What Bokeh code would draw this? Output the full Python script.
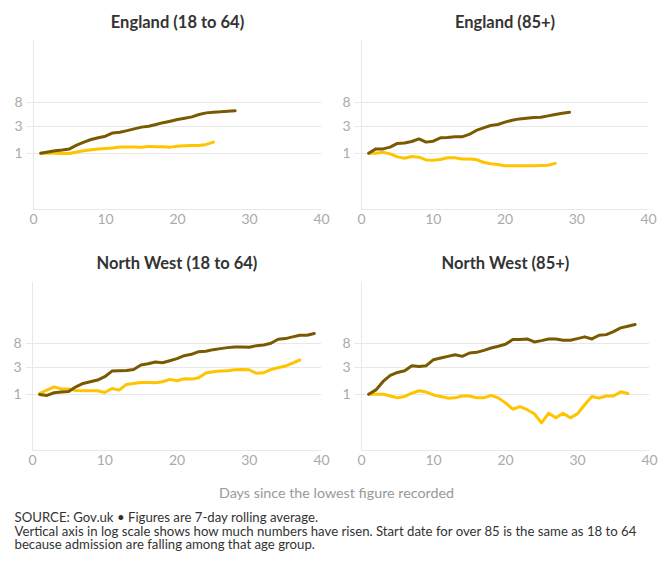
from bokeh.plotting import figure
from bokeh.models import Range1d, FixedTicker, PrintfTickFormatter, Label
from bokeh.layouts import column, row
from bokeh.embed import file_html
from bokeh.resources import INLINE

# ---- data (ratio to the lowest figure, by days since) ----
eng_young_dark = [1.0, 1.05, 1.1, 1.14, 1.19, 1.39, 1.57, 1.75, 1.88, 2.0, 2.29, 2.36, 2.51, 2.7,
                  2.9, 3.0, 3.23, 3.48, 3.7, 3.96, 4.18, 4.41, 4.86, 5.19, 5.34, 5.41, 5.52, 5.64]
eng_young_yellow = [1.0, 1.0, 1.0, 0.99, 0.985, 1.05, 1.10, 1.15, 1.19, 1.21, 1.23, 1.29, 1.29,
                    1.29, 1.27, 1.32, 1.30, 1.30, 1.28, 1.33, 1.35, 1.37, 1.37, 1.43, 1.57]
eng_old_dark = [1.0, 1.19, 1.19, 1.28, 1.49, 1.52, 1.61, 1.79, 1.57, 1.63, 1.87, 1.90, 1.95, 1.95,
                2.15, 2.53, 2.81, 3.10, 3.23, 3.55, 3.85, 4.06, 4.18, 4.30, 4.35, 4.59, 4.86, 5.13, 5.34]
eng_old_yellow = [1.0, 1.0, 1.04, 0.97, 0.86, 0.81, 0.87, 0.85, 0.76, 0.75, 0.77, 0.83, 0.83, 0.79,
                  0.79, 0.77, 0.69, 0.65, 0.63, 0.60, 0.60, 0.60, 0.60, 0.60, 0.605, 0.61, 0.66]
nw_young_dark = [0.99, 0.95, 1.06, 1.09, 1.12, 1.35, 1.55, 1.66, 1.78, 2.04, 2.57, 2.61, 2.64, 2.75,
                 3.29, 3.47, 3.72, 3.62, 3.93, 4.27, 4.82, 5.10, 5.69, 5.76, 6.17, 6.43, 6.70, 6.89,
                 6.89, 6.79, 7.27, 7.47, 8.0, 9.42, 9.69, 10.4, 11.1, 11.1, 11.9]
nw_young_yellow = [1.03, 1.18, 1.35, 1.23, 1.24, 1.16, 1.15, 1.15, 1.15, 1.07, 1.26, 1.18, 1.49,
                   1.55, 1.61, 1.61, 1.59, 1.66, 1.83, 1.73, 1.88, 1.85, 1.95, 2.37, 2.50, 2.57,
                   2.61, 2.71, 2.75, 2.71, 2.34, 2.40, 2.75, 2.95, 3.16, 3.57, 4.04]
nw_old_dark = [1.0, 1.19, 1.68, 2.15, 2.43, 2.61, 3.20, 3.11, 3.20, 4.09, 4.38, 4.69, 5.02, 4.69,
               5.38, 5.53, 6.0, 6.6, 7.08, 7.68, 9.3, 9.3, 9.56, 8.45, 8.93, 9.56, 9.56, 9.05, 9.05,
               9.69, 10.4, 9.56, 11.1, 11.4, 12.9, 15.0, 16.1, 17.2]
nw_old_yellow = [1.0, 1.0, 1.0, 0.93, 0.86, 0.91, 1.04, 1.15, 1.09, 0.97, 0.91, 0.85, 0.86, 0.93,
                 0.93, 0.86, 0.86, 0.95, 0.86, 0.70, 0.54, 0.60, 0.53, 0.45, 0.31, 0.46, 0.38, 0.46,
                 0.38, 0.45, 0.65, 0.91, 0.85, 0.93, 0.93, 1.10, 1.03]

titles = ["England (18 to 64)", "England (85+)", "North West (18 to 64)", "North West (85+)"]
y_ticks = [1, 3, 8]
x_ticks = [0, 10, 20, 30, 40]
x_label = "Days since the lowest figure recorded"
notes = [
    "SOURCE: Gov.uk \u2022 Figures are 7-day rolling average.",
    "Vertical axis in log scale shows how much numbers have risen. Start date for over 85 is the same as 18 to 64",
    "because admission are falling among that age group.",
]

DARK = "#7a5a00"
YELLOW = "#ffc400"
GRID = "#e8e8e8"
FONT = "Lato"


def panel(title, dark, yellow, width, height, bl, br, bt, bb):
    p = figure(width=width, height=height, y_axis_type="log",
               x_range=Range1d(0, 40), y_range=Range1d(0.1, 100),
               output_backend="svg", toolbar_location=None,
               min_border_left=bl, min_border_right=br,
               min_border_top=bt, min_border_bottom=bb)
    p.title.text = title
    p.title.align = "center"
    p.title.text_font = FONT
    p.title.text_font_size = "16.5px"
    p.title.text_font_style = "bold"
    p.title.text_color = "#333333"
    p.title.standoff = 18
    p.outline_line_color = None
    p.background_fill_color = "white"
    p.border_fill_color = "white"

    p.xgrid.visible = False
    p.ygrid.ticker = FixedTicker(ticks=y_ticks)
    p.ygrid.grid_line_color = GRID
    p.ygrid.grid_line_width = 1

    p.xaxis.ticker = FixedTicker(ticks=x_ticks)
    p.yaxis.ticker = FixedTicker(ticks=y_ticks)
    p.yaxis.formatter = PrintfTickFormatter(format="%d")
    for ax in (p.xaxis, p.yaxis):
        ax.axis_line_color = GRID
        ax.major_tick_line_color = GRID
        ax.minor_tick_line_color = None
        ax.major_label_text_font = FONT
        ax.major_label_text_font_size = "14px"
        ax.major_label_text_color = "#aaaaaa"
    p.xaxis.major_tick_out = 0
    p.xaxis.major_tick_in = 0
    p.xaxis.major_label_standoff = 4
    p.yaxis.major_tick_out = 7
    p.yaxis.major_tick_in = 0
    p.yaxis.major_label_standoff = 4

    p.line(list(range(1, len(yellow) + 1)), yellow, line_color=YELLOW, line_width=3,
           line_join="round", line_cap="round")
    p.line(list(range(1, len(dark) + 1)), dark, line_color=DARK, line_width=3,
           line_join="round", line_cap="round")
    return p


tl = panel(titles[0], eng_young_dark, eng_young_yellow, 332, 239, 33, 11, 40, 30)
tr = panel(titles[1], eng_old_dark, eng_old_yellow, 332, 239, 29, 16, 40, 30)
bl = panel(titles[2], nw_young_dark, nw_young_yellow, 332, 241, 32, 11, 42, 30)
br = panel(titles[3], nw_old_dark, nw_old_yellow, 332, 241, 29, 15, 42, 30)

FW, FH = 664, 88
foot = figure(width=FW, height=FH, x_range=Range1d(0, FW), y_range=Range1d(FH, 0),
              output_backend="svg", toolbar_location=None,
              min_border=0, min_border_left=0, min_border_right=0,
              min_border_top=0, min_border_bottom=0)
foot.axis.visible = False
foot.grid.visible = False
foot.outline_line_color = None
foot.add_layout(Label(x=336, y=11.5, text=x_label, text_align="center", text_baseline="middle",
                      text_font=FONT, text_font_size="14.3px", text_color="#999999"))
for i, t in enumerate(notes):
    foot.add_layout(Label(x=14, y=36.5 + 13.5 * i, text=t, text_align="left", text_baseline="middle",
                          text_font=FONT, text_font_size="13.2px", text_color="#333333"))

layout = column(row(tl, tr), row(bl, br), foot)
open("out.html", "w").write(file_html(layout, INLINE))
